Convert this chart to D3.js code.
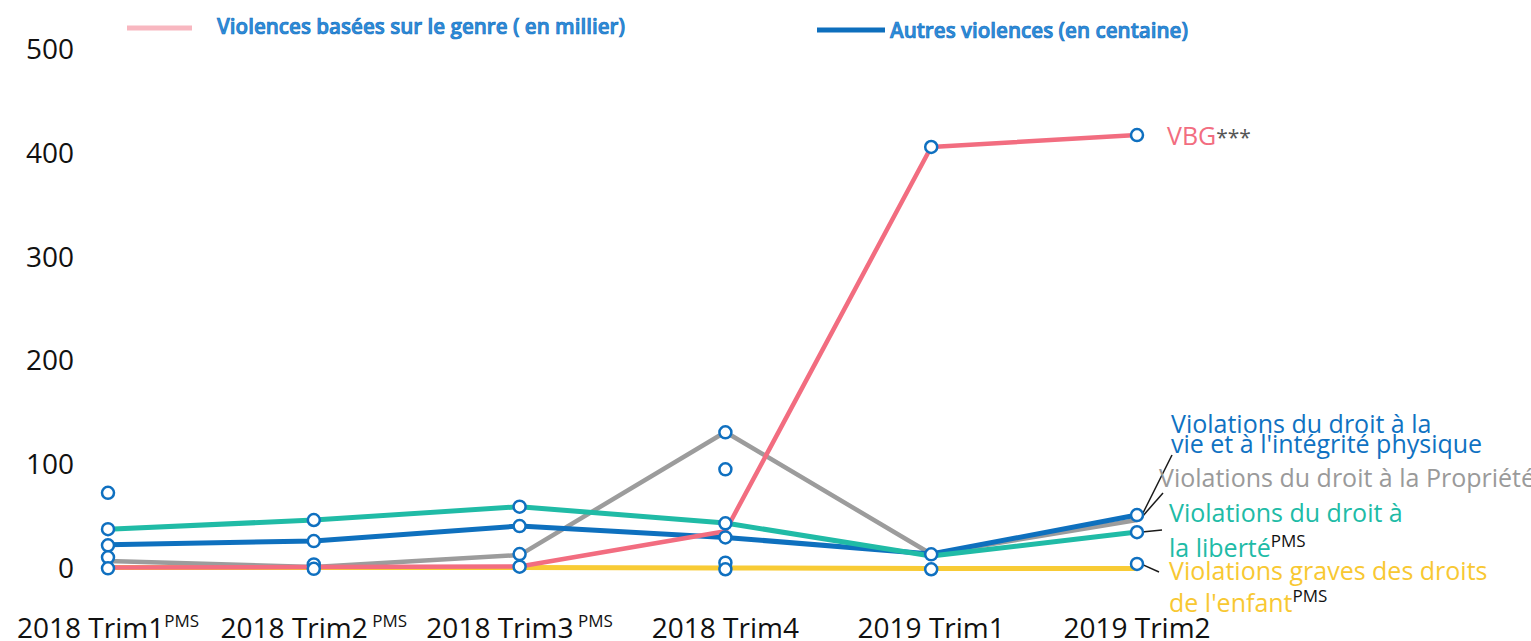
<!DOCTYPE html>
<html>
<head>
<meta charset="utf-8">
<script src="https://cdn.jsdelivr.net/npm/d3@7"></script>
<style>
	body { margin: 0; background: #fff; }
	svg { display: block; font-family: 'Open Sans', sans-serif; }
</style>
</head>
<body>
<div id="visContainer"></div>
<script>
'use strict';

// categories and tick labels
var categories = ['2018 Trim1', '2018 Trim2', '2018 Trim3', '2018 Trim4', '2019 Trim1', '2019 Trim2'];
var categorySup = ['PMS', ' PMS', ' PMS', '', '', ''];
var yTicks = [0, 100, 200, 300, 400, 500];

// series values
var vbg = [0, 0.5, 1, 35, 405.5, 417];
var vieIntegrite = [22, 25.5, 40, 29, 13, 50.6];
var propriete = [6.3, 0.5, 12, 130.7, 13, 45.8];
var liberte = [36.8, 45.8, 58.6, 42.9, 11, 34.2];
var enfant = [0, 0, 0, -0.5, -1, -1];

// hollow markers drawn on each category
var markerValues = [
	[72, 37, 21.4, 9.8, -0.8],
	[45.8, 25.5, 3, -1.3],
	[58.6, 40, 13, 0.8],
	[130.4, 94.7, 42.6, 29, 4.6, -1.7],
	[405.5, 12.7, -1.7],
	[417, 50.6, 34, 3.4]
];

var legendLabels = ['Violences basées sur le genre ( en millier)', 'Autres violences (en centaine)'];

var svg = d3.select('#visContainer')
	.append('svg')
	.attr('width', 1531)
	.attr('height', 641);

var xScale = d3.scalePoint()
	.domain(categories)
	.range([108, 1137]);

var yScale = d3.scaleLinear()
	.domain([0, 500])
	.range([567.5, 49]);

// y axis: labels only
var yAxis = d3.axisLeft(yScale).tickValues(yTicks).tickSize(0).tickPadding(0);
var yG = svg.append('g')
	.attr('transform', 'translate(74,0)')
	.call(yAxis);
yG.select('.domain').remove();
yG.selectAll('text')
	.attr('dy', '0.35em')
	.style('font-family', "'Open Sans', sans-serif")
	.style('font-size', '28px')
	.attr('fill', '#111');

// x labels with superscripts
var xLabels = svg.append('g').attr('class', 'x-labels');
categories.forEach(function (c, i) {
	var t = xLabels.append('text')
		.attr('x', xScale(c))
		.attr('y', 638)
		.attr('text-anchor', 'middle')
		.attr('fill', '#111')
		.style('font-size', '28px');
	t.append('tspan').text(c);
	if (categorySup[i] !== '') {
		t.append('tspan')
			.attr('dy', -11)
			.style('font-size', '17px')
			.style('white-space', 'pre')
			.attr('xml:space', 'preserve')
			.text(categorySup[i]);
	}
});

var line = d3.line()
	.x(function (d, i) { return xScale(categories[i]); })
	.y(function (d) { return yScale(d); });

var series = [
	{ values: enfant, color: '#F8CB35', width: 5 },
	{ values: propriete, color: '#9C9C9C', width: 4.5 },
	{ values: vieIntegrite, color: '#0E70BE', width: 5 },
	{ values: liberte, color: '#20BBA6', width: 5 },
	{ values: vbg, color: '#F26D80', width: 4.5 }
];

svg.append('g').selectAll('path')
	.data(series)
	.enter().append('path')
	.attr('d', function (d) { return line(d.values); })
	.attr('fill', 'none')
	.attr('stroke', function (d) { return d.color; })
	.attr('stroke-width', function (d) { return d.width; })
	.attr('stroke-linejoin', 'round');

// leader lines from labels to the last points
var last = categories[categories.length - 1];
var leaders = [
	{ x1: 1172, y1: 455, v: vieIntegrite[5] },
	{ x1: 1163, y1: 493, v: propriete[5] + 3 },
	{ x1: 1162, y1: 530, v: liberte[5] },
	{ x1: 1159, y1: 572, v: enfant[5] + 4 }
];
svg.append('g').selectAll('line')
	.data(leaders)
	.enter().append('line')
	.attr('x1', function (d) { return d.x1; })
	.attr('y1', function (d) { return d.y1; })
	.attr('x2', xScale(last) + 5)
	.attr('y2', function (d) { return yScale(d.v); })
	.attr('stroke', '#1a1a1a')
	.attr('stroke-width', 1.5);

// markers
var markerData = [];
markerValues.forEach(function (vals, i) {
	vals.forEach(function (v) {
		markerData.push({ c: categories[i], v: v });
	});
});
svg.append('g').selectAll('circle')
	.data(markerData)
	.enter().append('circle')
	.attr('cx', function (d) { return xScale(d.c); })
	.attr('cy', function (d) { return yScale(d.v); })
	.attr('r', 6)
	.attr('fill', '#fff')
	.attr('stroke', '#0F70C0')
	.attr('stroke-width', 2.5);

// legend
var legend = svg.append('g');
legend.append('line')
	.attr('x1', 127).attr('x2', 192).attr('y1', 28).attr('y2', 28)
	.attr('stroke', '#F8B7C0').attr('stroke-width', 5);
legend.append('text')
	.attr('x', 217).attr('y', 34)
	.attr('textLength', 408).attr('lengthAdjust', 'spacingAndGlyphs')
	.style('font-size', '21px').style('font-weight', 600)
	.attr('fill', '#2F90DC').attr('stroke', '#126EC0').attr('stroke-width', 0.7)
	.text(legendLabels[0]);
legend.append('line')
	.attr('x1', 817).attr('x2', 885).attr('y1', 30).attr('y2', 30)
	.attr('stroke', '#0E6FBD').attr('stroke-width', 5);
legend.append('text')
	.attr('x', 890).attr('y', 38)
	.attr('textLength', 298).attr('lengthAdjust', 'spacingAndGlyphs')
	.style('font-size', '21px').style('font-weight', 600)
	.attr('fill', '#2F90DC').attr('stroke', '#126EC0').attr('stroke-width', 0.7)
	.text(legendLabels[1]);

// series labels on the right
var labels = svg.append('g').style('font-size', '25px');

function addLabel(x, y, txt, color, sup, supSize, supDy) {
	var t = labels.append('text')
		.attr('x', x).attr('y', y)
		.attr('fill', color);
	t.append('tspan').text(txt);
	if (sup) {
		t.append('tspan')
			.attr('dy', supDy)
			.attr('fill', sup.color)
			.style('font-size', supSize + 'px')
			.text(sup.text);
	}
	return t;
}

addLabel(1167, 145, 'VBG', '#F26D80', { text: '***', color: '#555' }, 21, 0);
addLabel(1171, 433, 'Violations du droit à la', '#0F72C2');
addLabel(1171, 453, "vie et à l'intégrité physique", '#0F72C2');
addLabel(1159, 487, 'Violations du droit à la Propriété', '#9A9A9A');
addLabel(1169, 522, 'Violations du droit à', '#20BBA6');
addLabel(1169, 557, 'la liberté', '#20BBA6', { text: 'PMS', color: '#111' }, 17, -10);
addLabel(1169, 580, 'Violations graves des droits', '#F8C832');
addLabel(1169, 612, "de l'enfant", '#F8C832', { text: 'PMS', color: '#111' }, 17, -10);
</script>
</body>
</html>
